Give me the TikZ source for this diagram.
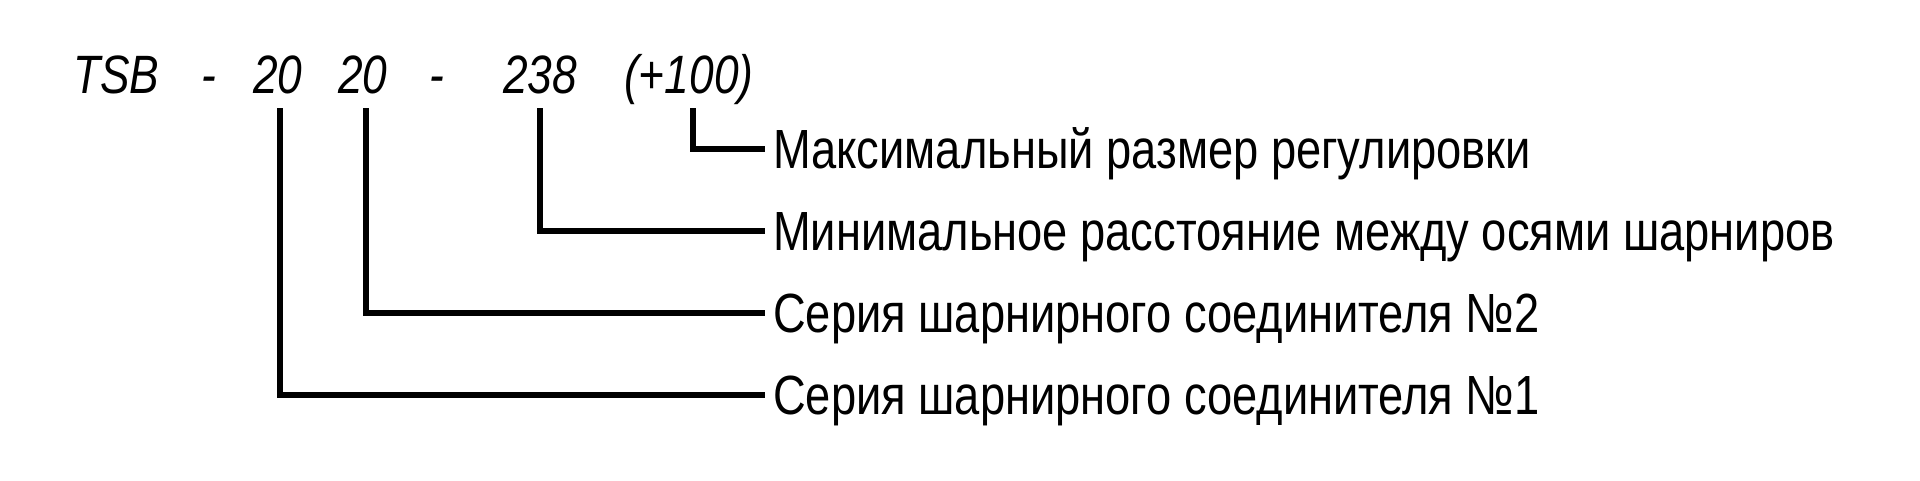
\documentclass[tikz,border=0pt]{standalone}
\usepackage{fontspec}
\setmainfont{Liberation Sans}[FakeStretch=0.82]
\begin{document}
\begin{tikzpicture}[x=1pt,y=-1pt,
  code/.style={font=\fontsize{54}{54}\selectfont\itshape, inner sep=0pt, anchor=base west},
  lab/.style={font=\fontsize{55.2}{55.2}\selectfont, inner xsep=8pt, inner ysep=0pt,
              text height=39pt, text depth=0pt, anchor=west},
  conn/.style={line width=5.2pt, line join=miter}]
\useasboundingbox (0,0) rectangle (1920,480);
% code line
\node[code] (t1) at (73,93) {TSB};
\node[code] (t2) at (201,93) {-};
\node[code] (t3) at (253,93) {20};
\node[code] (t4) at (338,93) {20};
\node[code] (t5) at (429,93) {-};
\node[code] (t6) at (503,93) {238};
\node[code] (t7) at (624,93) {(+100)};
% labels
\node[lab] (l1) at (765,149) {Максимальный размер регулировки};
\node[lab] (l2) at (765,231) {Минимальное расстояние между осями шарниров};
\node[lab] (l3) at (765,313) {Серия шарнирного соединителя №2};
\node[lab] (l4) at (765,395) {Серия шарнирного соединителя №1};
% start points under the code
\coordinate (s7) at (693,108);
\coordinate (s6) at (540,108);
\coordinate (s4) at (366,108);
\coordinate (s3) at (280,108);
\draw[conn] (s7) |- (l1.west);
\draw[conn] (s6) |- (l2.west);
\draw[conn] (s4) |- (l3.west);
\draw[conn] (s3) |- (l4.west);
\end{tikzpicture}
\end{document}
